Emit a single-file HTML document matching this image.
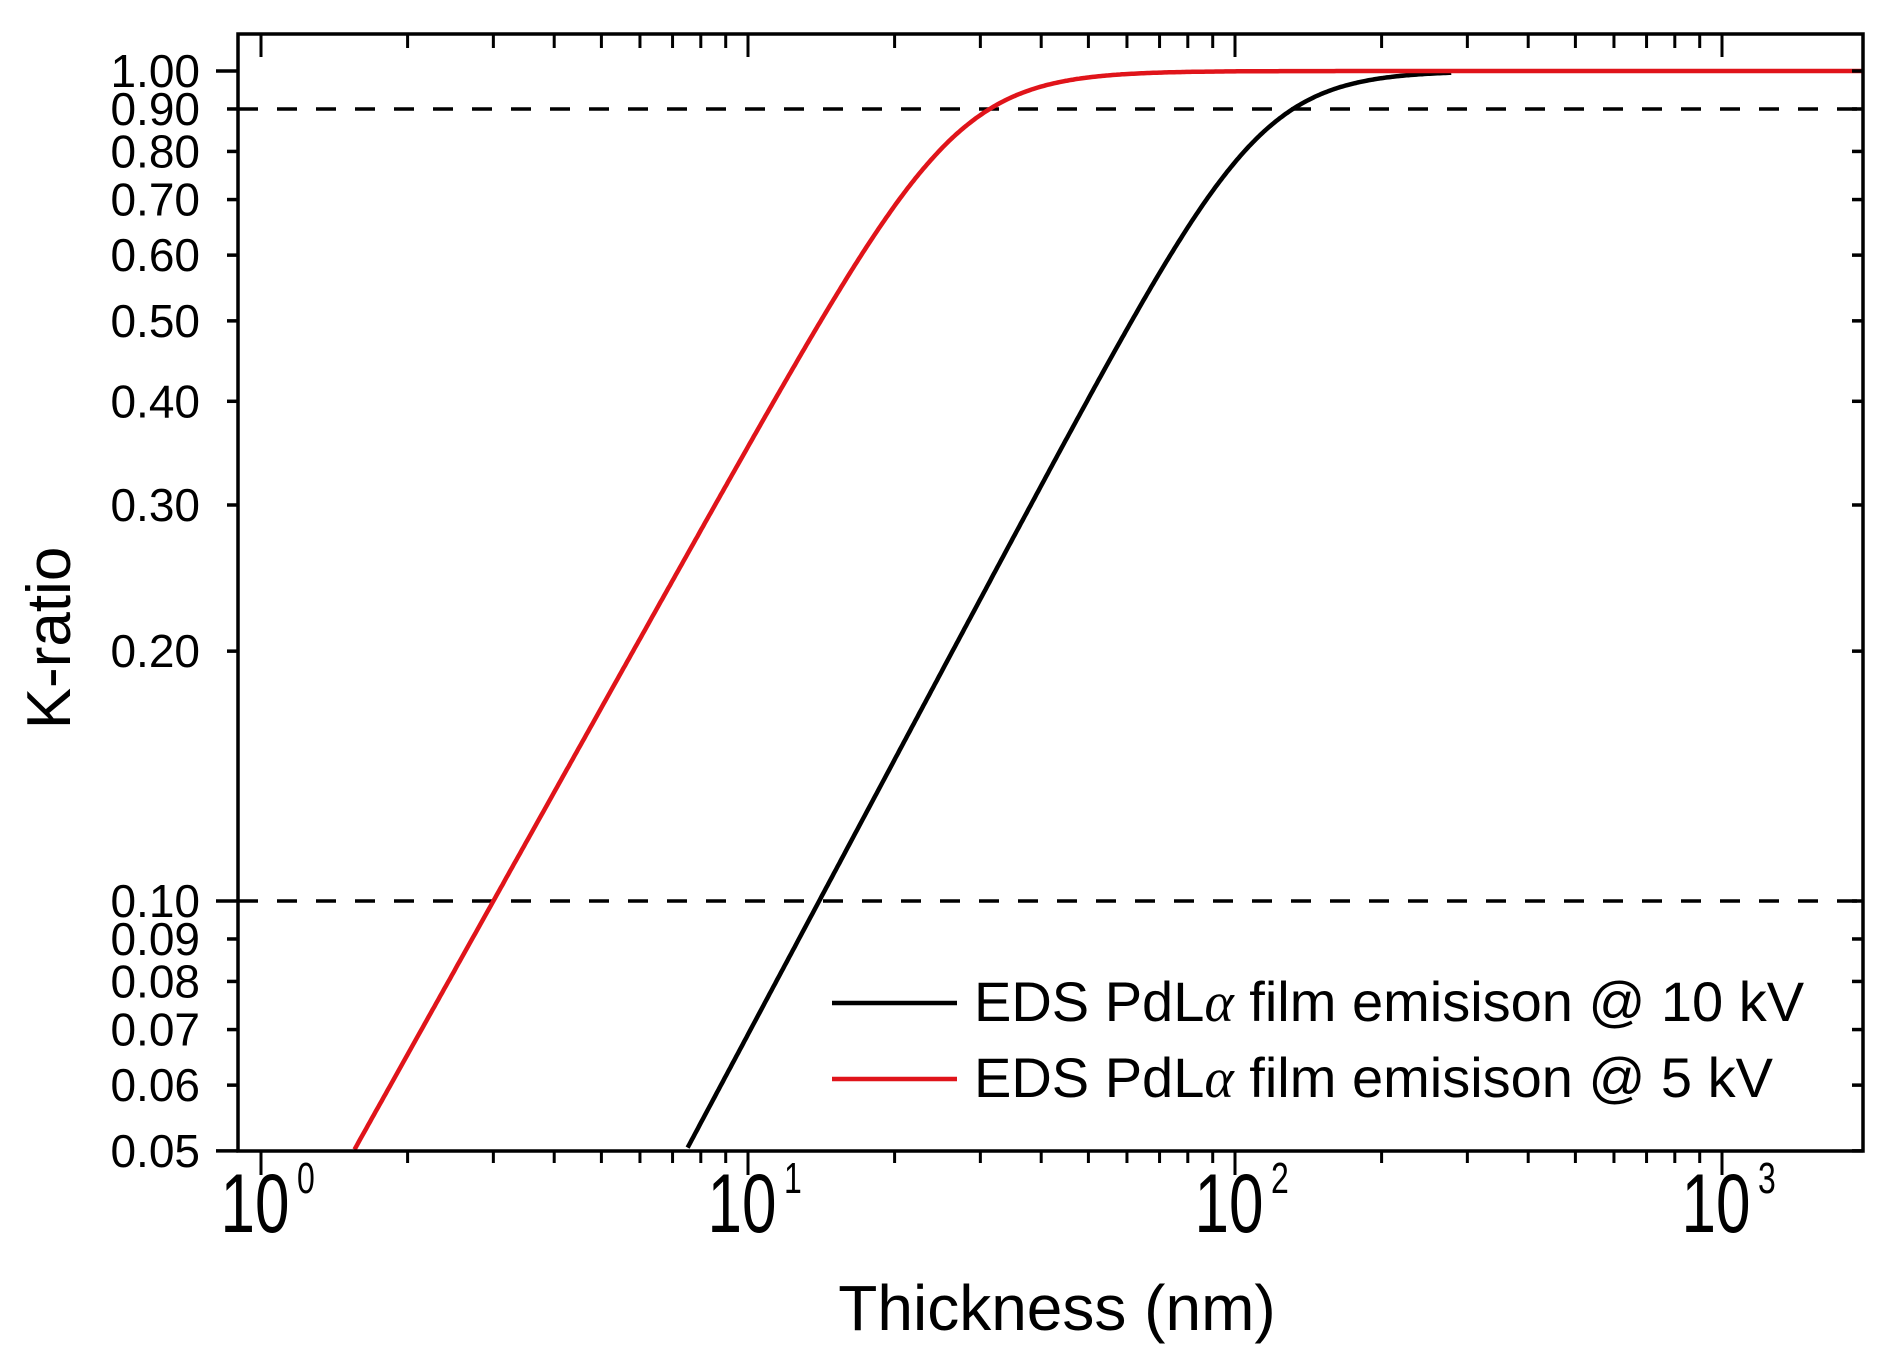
<!DOCTYPE html>
<html><head><meta charset="utf-8"><style>
html,body{margin:0;padding:0;background:#fff;}
svg{display:block;font-family:"Liberation Sans",Arial,sans-serif;}
</style></head><body>
<svg id="s" width="1895" height="1351" viewBox="0 0 1895 1351" xmlns="http://www.w3.org/2000/svg">
<rect width="1895" height="1351" fill="#fff"/>
<g id="g"></g>
</svg>
<script>
var L=238,R=1863,T=34,B=1151;
var X0=261,DX=487;
var Y1=71,DY=830;
function px(t){return X0+Math.log10(t)*DX;}
function py(k){return Y1-Math.log10(k)*DY;}
var h='';
function line(x1,y1,x2,y2,w,c,extra){h+='<line x1="'+x1+'" y1="'+y1+'" x2="'+x2+'" y2="'+y2+'" stroke="'+(c||'#000')+'" stroke-width="'+w+'" '+(extra||'')+'/>';}
line(L,py(0.9),R,py(0.9),3.5,'#000','stroke-dasharray="20 19"');
line(L,py(0.1),R,py(0.1),3.5,'#000','stroke-dasharray="20 19"');
function curve(tau,p,n,tmax,col){
  var d='',first=true;
  for(var lg=-0.1;lg<=Math.log10(tmax);lg+=0.004){
    var t=Math.pow(10,lg);var x=Math.pow(t/tau,p);
    var k=x/Math.pow(1+Math.pow(x,n),1/n);
    if(k<0.05)continue;
    var X=px(t);if(X>R)break;
    d+=(first?'M':'L')+X.toFixed(1)+' '+py(k).toFixed(1)+' ';first=false;
  }
  h+='<path d="'+d+'" fill="none" stroke="'+col+'" stroke-width="4.5"/>';
}
curve(14/Math.pow(0.1,1/1.1),1.1,4,280,'#000');
curve(3/Math.pow(0.1,1/1.05),1.05,4,5000,'#e0141a');
h+='<rect x="'+L+'" y="'+T+'" width="'+(R-L)+'" height="'+(B-T)+'" fill="none" stroke="#000" stroke-width="3.5"/>';
var yt=[0.05,0.06,0.07,0.08,0.09,0.1,0.2,0.3,0.4,0.5,0.6,0.7,0.8,0.9,1.0];
yt.forEach(function(k){
  var y=py(k);var maj=(k==0.05||k==0.1||k==1.0);
  line(L-(maj?22:11),y,L,y,3.5);
  line(R-11,y,R,y,3.5);
  h+='<text x="200" y="'+(y+16)+'" font-size="46" text-anchor="end" fill="#000">'+k.toFixed(2)+'</text>';
});
for(var e=0;e<=3;e++){for(var m=1;m<=9;m++){
  var t=m*Math.pow(10,e);var x=px(t);if(x>R||x<L)continue;
  var maj=(m==1);
  line(x,B,x,B+(maj?24:12),3);
  line(x,T,x,T+(maj?23:14),3);
  if(maj){
    h+='<text transform="translate('+(x-6)+',1232) scale(1,1.35)" font-size="62" text-anchor="middle" fill="#000">10</text>';
    h+='<text transform="translate('+(x+36)+',1193) scale(1,1.35)" font-size="32" text-anchor="start" fill="#000">'+e+'</text>';}
}}
h+='<text x="1057" y="1330" font-size="64" text-anchor="middle" fill="#000">Thickness (nm)</text>';
h+='<text transform="translate(70,638) rotate(-90)" x="0" y="0" font-size="62" text-anchor="middle" fill="#000">K-ratio</text>';
line(832,1003,957,1003,4.5,'#000');
line(832,1079,957,1079,4.5,'#e0141a');
h+='<text x="974" y="1021" font-size="56" fill="#000">EDS PdL<tspan font-family="Liberation Serif,serif" font-style="italic">α</tspan> film emisison @ 10 kV</text>';
h+='<text x="974" y="1097" font-size="56" fill="#000">EDS PdL<tspan font-family="Liberation Serif,serif" font-style="italic">α</tspan> film emisison @ 5 kV</text>';
document.getElementById('g').innerHTML=h;
</script>
</body></html>
